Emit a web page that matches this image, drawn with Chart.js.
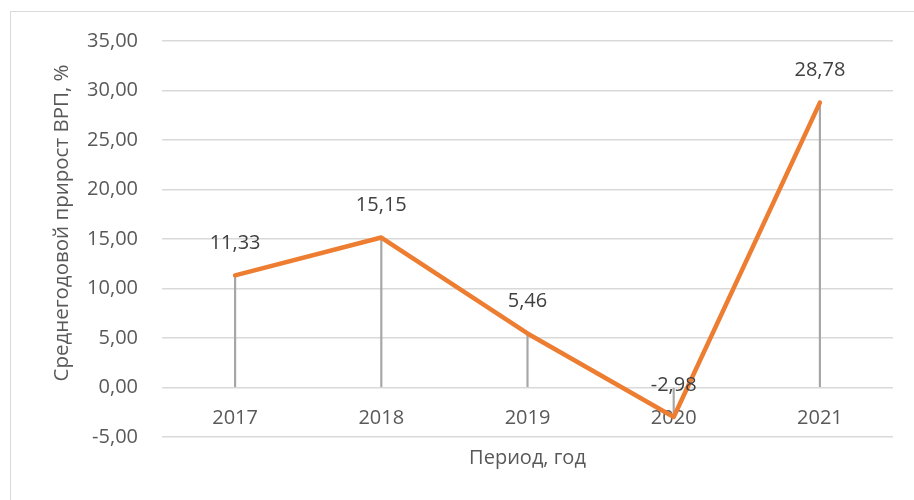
<!DOCTYPE html>
<html>
<head>
<meta charset="utf-8">
<script src="https://cdn.jsdelivr.net/npm/chart.js@4"></script>
<style>
  html, body { margin: 0; padding: 0; overflow: hidden; background: #fff; }
  #frame { position: absolute; left: 10px; top: 11px; width: 1000px; height: 600px; border: 1px solid #d9d9d9; }
  #wrap { position: absolute; left: 0; top: 0; width: 914px; height: 500px; }
</style>
</head>
<body>
<div id="frame"></div>
<div id="wrap"><canvas id="chart" width="914" height="500"></canvas></div>
<script>
const years = ['2017', '2018', '2019', '2020', '2021']
const growth = [11.33, 15.15, 5.46, -2.98, 28.78]
const yMin = -5
const yMax = 35
const yStep = 5

const FONT = "'Open Sans', 'Noto Sans', sans-serif"
const fmt = v => Number(v).toFixed(2).replace('.', ',')

// value labels above the line points
const pointLabels = {
    id: 'pointLabels',
    afterDatasetsDraw(chart) {
        const ctx = chart.ctx
        const meta = chart.getDatasetMeta(0)
        ctx.save()
        ctx.font = '20px ' + FONT
        ctx.fillStyle = '#404040'
        ctx.textAlign = 'center'
        ctx.textBaseline = 'middle'
        meta.data.forEach((pt, i) => {
            ctx.fillText(fmt(growth[i]), pt.x, pt.y - 32)
        })
        ctx.restore()
    }
}

const ctx = document.getElementById('chart').getContext('2d')
const chart = new Chart(ctx, {
    type: 'line',
    data: {
        labels: years,
        datasets: [{
            type: 'line',
            data: growth,
            borderColor: '#ED7D31',
            borderWidth: 4.5,
            borderCapStyle: 'round',
            borderJoinStyle: 'round',
            pointRadius: 0,
            tension: 0,
            order: 0
        }, {
            // drop lines
            type: 'bar',
            data: growth,
            backgroundColor: '#a6a6a6',
            barThickness: 1.5,
            order: 1
        }]
    },
    options: {
        responsive: false,
        animation: false,
        layout: { padding: { left: 0, right: 21, top: 41, bottom: 0 } },
        plugins: { legend: { display: false }, tooltip: { enabled: false } },
        scales: {
            x: {
                offset: true,
                grid: { display: false, drawTicks: false },
                border: { display: false },
                ticks: { mirror: true, padding: 7, color: '#595959', font: { family: FONT, size: 20 } },
                title: {
                    display: true, text: 'Период, год', color: '#595959',
                    font: { family: FONT, size: 20 }, padding: { top: 0, bottom: 30 }
                },
                afterFit: s => { s.height = 63 }
            },
            y: {
                min: yMin,
                max: yMax,
                grid: { color: '#d9d9d9', lineWidth: 1.5, drawTicks: false },
                border: { display: false },
                ticks: {
                    stepSize: yStep, padding: 24, color: '#595959',
                    font: { family: FONT, size: 20 },
                    callback: v => fmt(v)
                },
                title: {
                    display: true,
                    text: '\u00a0\u00a0\u00a0\u00a0\u00a0\u00a0Среднегодовой прирост ВРП, %',
                    color: '#595959',
                    font: { family: FONT, size: 20.5 }, padding: { top: 50, bottom: 0 }
                },
                afterFit: s => { s.width = 162 }
            }
        }
    },
    plugins: [pointLabels]
})
</script>
</body>
</html>
